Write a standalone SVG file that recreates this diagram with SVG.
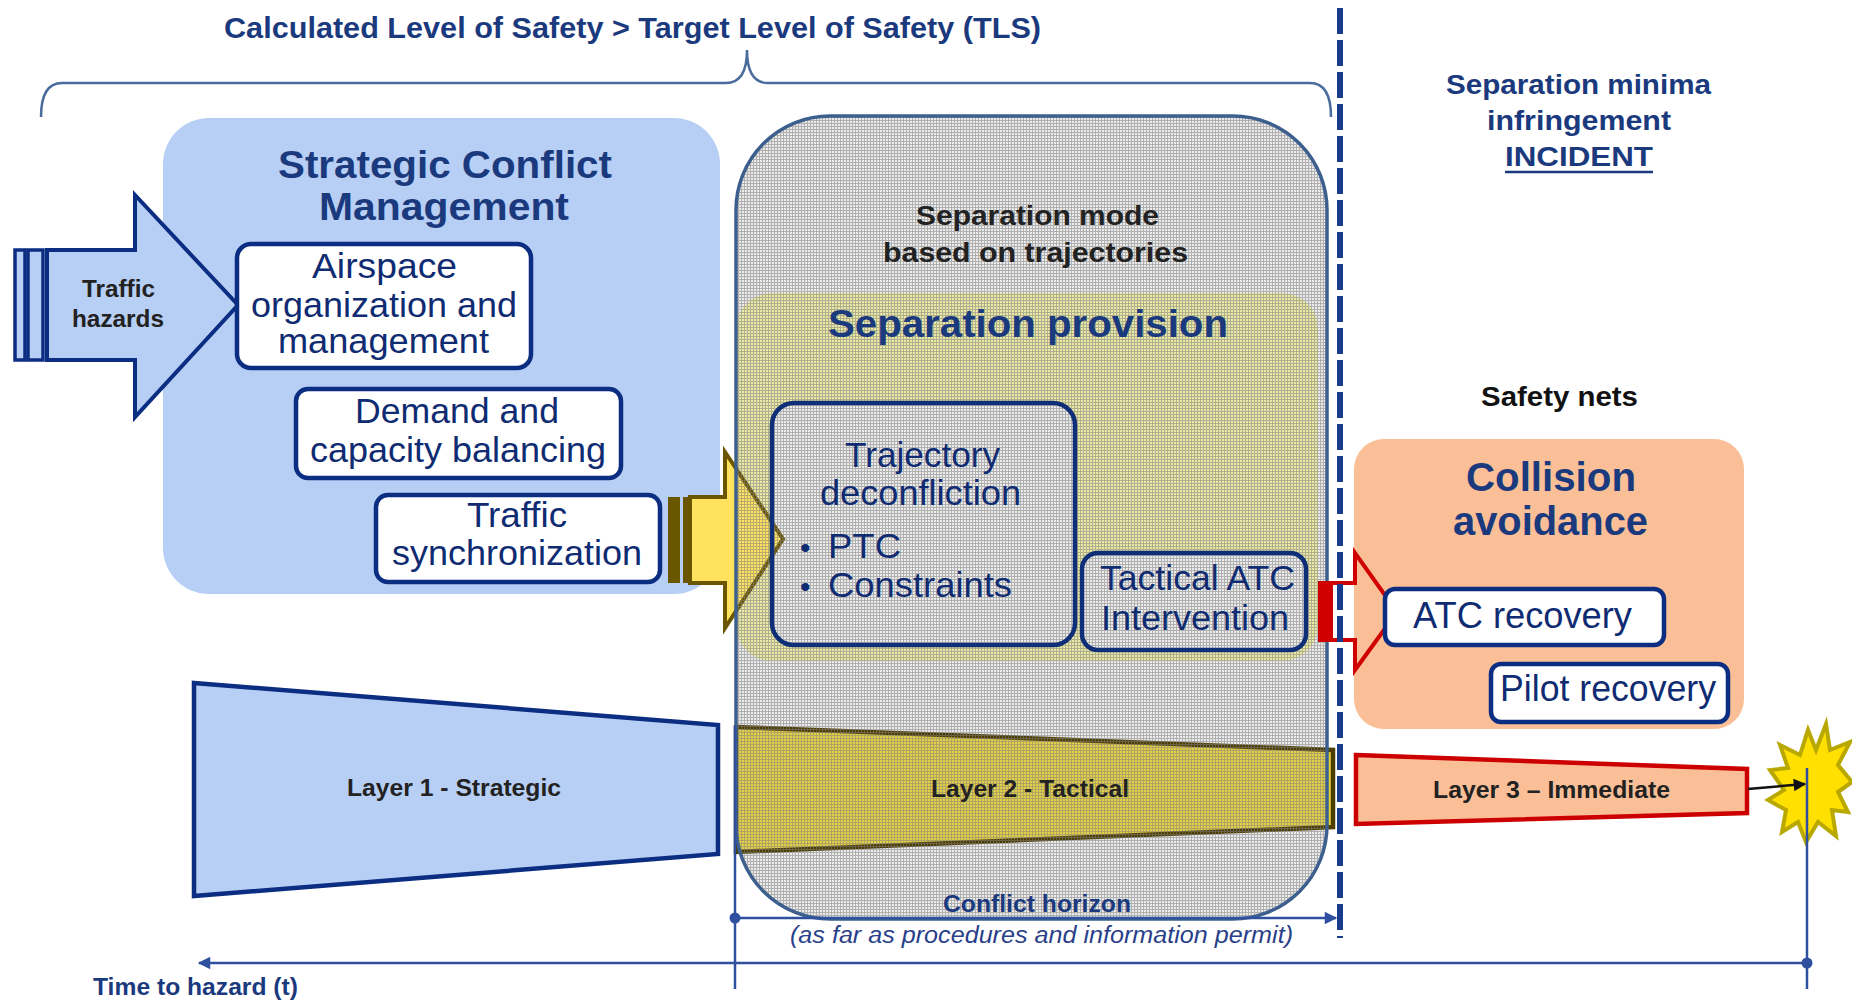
<svg xmlns="http://www.w3.org/2000/svg" width="1852" height="1002" viewBox="0 0 1852 1002">
<defs>
<style>
text{font-family:"Liberation Sans",Arial,sans-serif}
.b{font-weight:bold}
.navy{fill:#1b3a7e}
.bx{fill:#0f2b72}
.dk{fill:#222222}
.wbox{fill:#ffffff;stroke:#0b2d82;stroke-width:4.5}
.obox{fill:none;stroke:#0e2f78;stroke-width:4.5}
.ln{stroke:#2f4f9f;stroke-width:2.5;fill:none}
</style>
<pattern id="grid" width="3" height="3" patternUnits="userSpaceOnUse">
<rect width="3" height="1" fill="#808080" fill-opacity="0.55"/>
<rect y="1" width="1" height="2" fill="#808080" fill-opacity="0.55"/>
</pattern>
<marker id="ahBlue" viewBox="0 0 10 10" refX="9" refY="5" markerWidth="5.5" markerHeight="5" orient="auto" markerUnits="strokeWidth">
<path d="M0,0 L10,5 L0,10 z" fill="#2f4f9f"/>
</marker>
<marker id="ahBlack" viewBox="0 0 10 10" refX="9" refY="5" markerWidth="6" markerHeight="5" orient="auto" markerUnits="strokeWidth">
<path d="M0,0 L10,5 L0,10 z" fill="#111111"/>
</marker>
</defs>
<rect width="1852" height="1002" fill="#ffffff"/>

<g id="tls-header">
<path d="M41,117 Q41,83 62,83 L726,83 Q747,83 747,50 Q747,83 768,83 L1310,83 Q1331,83 1331,117" fill="none" stroke="#4a6c9c" stroke-width="2.5"/>
<text class="b navy" x="224" y="38" font-size="29" textLength="817" lengthAdjust="spacingAndGlyphs">Calculated Level of Safety &gt; Target Level of Safety (TLS)</text>
</g>

<g id="incident-label">
<text class="b navy" x="1446" y="94" font-size="28" textLength="265" lengthAdjust="spacingAndGlyphs">Separation minima</text>
<text class="b navy" x="1487" y="130" font-size="28" textLength="184" lengthAdjust="spacingAndGlyphs">infringement</text>
<text class="b navy" x="1505" y="166" font-size="28" textLength="148" lengthAdjust="spacingAndGlyphs">INCIDENT</text>
<line x1="1505" y1="172" x2="1653" y2="172" stroke="#1b3a7e" stroke-width="2.5"/>
</g>

<g id="strategic-conflict-management">
<rect x="163" y="118" width="557" height="476" rx="46" fill="#b8cff5"/>
<text class="b navy" x="278" y="178" font-size="38" textLength="334" lengthAdjust="spacingAndGlyphs">Strategic Conflict</text>
<text class="b navy" x="319" y="220" font-size="38" textLength="250" lengthAdjust="spacingAndGlyphs">Management</text>
</g>

<g id="traffic-hazards">
<rect x="15" y="250" width="10" height="110" fill="#b8cff5" stroke="#0b2d82" stroke-width="3.5"/>
<rect x="28" y="250" width="15" height="110" fill="#b8cff5" stroke="#0b2d82" stroke-width="3.5"/>
<polygon points="47,250 135,250 135,195 238,305 135,417 135,360 47,360" fill="#b8cff5" stroke="#0b2d82" stroke-width="4" stroke-linejoin="miter"/>
<text class="b dk" x="82" y="297" font-size="23" textLength="73" lengthAdjust="spacingAndGlyphs">Traffic</text>
<text class="b dk" x="72" y="327" font-size="23" textLength="92" lengthAdjust="spacingAndGlyphs">hazards</text>
</g>

<g id="airspace-organization">
<rect class="wbox" x="237" y="244" width="294" height="124" rx="14"/>
<text class="bx" x="312" y="278" font-size="35" textLength="145" lengthAdjust="spacingAndGlyphs">Airspace</text>
<text class="bx" x="251" y="317" font-size="35" textLength="266" lengthAdjust="spacingAndGlyphs">organization and</text>
<text class="bx" x="278" y="353" font-size="35" textLength="211" lengthAdjust="spacingAndGlyphs">management</text>
</g>

<g id="demand-capacity">
<rect class="wbox" x="296" y="389" width="325" height="89" rx="12"/>
<text class="bx" x="355" y="423" font-size="35" textLength="204" lengthAdjust="spacingAndGlyphs">Demand and</text>
<text class="bx" x="310" y="462" font-size="35" textLength="296" lengthAdjust="spacingAndGlyphs">capacity balancing</text>
</g>

<g id="traffic-synchronization">
<rect class="wbox" x="376" y="495" width="284" height="87" rx="12"/>
<text class="bx" x="467" y="527" font-size="35" textLength="100" lengthAdjust="spacingAndGlyphs">Traffic</text>
<text class="bx" x="392" y="565" font-size="35" textLength="250" lengthAdjust="spacingAndGlyphs">synchronization</text>
</g>

<g id="layer-1">
<polygon points="194,683 718,725 718,854 194,896" fill="#b8cff5" stroke="#0b2d82" stroke-width="4.5"/>
<text class="b dk" x="347" y="796" font-size="24" textLength="214" lengthAdjust="spacingAndGlyphs">Layer 1 - Strategic</text>
</g>

<g id="separation-mode">
<rect x="736" y="116" width="591" height="803" rx="94" fill="#ebebeb"/>
<rect id="separation-provision-bg" x="736" y="293" width="582" height="368" rx="36" fill="#e9e9a4"/>
<rect x="772" y="403" width="303" height="242" rx="22" fill="#ebebeb"/>
<rect x="1082" y="553" width="224" height="97" rx="16" fill="#ebebeb"/>
</g>

<g id="sync-arrow">
<rect x="668" y="497" width="12" height="86" fill="#6b5600"/>
<rect x="683" y="497" width="7" height="86" fill="#6b5600"/>
<polygon points="690,497 725,497 725,452 783,539 725,628 725,583 690,583" fill="#ffe35e" stroke="#6b5600" stroke-width="4"/>
</g>

<g id="layer-2">
<polygon points="736,727 1333,750 1333,827 736,852" fill="#e4d045" stroke="#4d3d00" stroke-width="4.5"/>
</g>

<g id="separation-mode-overlay">
<rect x="736" y="116" width="591" height="803" rx="94" fill="url(#grid)" stroke="#3c5f8e" stroke-width="3.5"/>
<text class="b dk" x="916" y="225" font-size="28" textLength="243" lengthAdjust="spacingAndGlyphs">Separation mode</text>
<text class="b dk" x="883" y="262" font-size="28" textLength="305" lengthAdjust="spacingAndGlyphs">based on trajectories</text>
<text class="b navy" x="828" y="337" font-size="38" textLength="400" lengthAdjust="spacingAndGlyphs">Separation provision</text>
<text class="b dk" x="931" y="797" font-size="24" textLength="198" lengthAdjust="spacingAndGlyphs">Layer 2 - Tactical</text>
</g>

<g id="trajectory-deconfliction">
<rect class="obox" x="772" y="403" width="303" height="242" rx="22"/>
<text class="bx" x="845" y="467" font-size="35" textLength="155" lengthAdjust="spacingAndGlyphs">Trajectory</text>
<text class="bx" x="820" y="505" font-size="35" textLength="201" lengthAdjust="spacingAndGlyphs">deconfliction</text>
<text class="bx" x="800" y="558" font-size="30">•</text>
<text class="bx" x="828" y="558" font-size="35" textLength="73" lengthAdjust="spacingAndGlyphs">PTC</text>
<text class="bx" x="800" y="597" font-size="30">•</text>
<text class="bx" x="828" y="597" font-size="35" textLength="184" lengthAdjust="spacingAndGlyphs">Constraints</text>
</g>

<g id="tactical-atc">
<rect class="obox" x="1082" y="553" width="224" height="97" rx="16"/>
<text class="bx" x="1100" y="590" font-size="35" textLength="195" lengthAdjust="spacingAndGlyphs">Tactical ATC</text>
<text class="bx" x="1101" y="630" font-size="35" textLength="188" lengthAdjust="spacingAndGlyphs">Intervention</text>
</g>

<g id="safety-nets">
<text class="b" x="1481" y="406" font-size="28" fill="#111111" textLength="157" lengthAdjust="spacingAndGlyphs">Safety nets</text>
</g>

<g id="collision-avoidance">
<rect x="1354" y="439" width="390" height="290" rx="30" fill="#fbbf98"/>
<text class="b navy" x="1466" y="491" font-size="40" textLength="170" lengthAdjust="spacingAndGlyphs">Collision</text>
<text class="b navy" x="1453" y="535" font-size="40" textLength="195" lengthAdjust="spacingAndGlyphs">avoidance</text>
</g>

<g id="recovery-arrow">
<rect x="1320" y="583" width="13" height="57" fill="#d00000"/>
<polygon points="1320,583 1355,583 1355,553 1397,612 1355,670 1355,640 1320,640" fill="none" stroke="#d00000" stroke-width="4"/>
</g>

<g id="atc-recovery">
<rect class="wbox" x="1385" y="589" width="279" height="56" rx="10"/>
<text class="bx" x="1413" y="628" font-size="36" textLength="219" lengthAdjust="spacingAndGlyphs">ATC recovery</text>
</g>

<g id="pilot-recovery">
<rect class="wbox" x="1491" y="664" width="237" height="58" rx="10"/>
<text class="bx" x="1500" y="701" font-size="36" textLength="216" lengthAdjust="spacingAndGlyphs">Pilot recovery</text>
</g>

<g id="layer-3">
<polygon points="1356,755 1747,769 1747,813 1356,824" fill="#fbbf98" stroke="#cc0000" stroke-width="4.5"/>
<text class="b dk" x="1433" y="798" font-size="24" textLength="237" lengthAdjust="spacingAndGlyphs">Layer 3 – Immediate</text>
</g>

<g id="hazard-burst">
<polygon points="1826,724 1830,750 1850,742 1838,765 1852,782 1838,792 1848,812 1832,810 1836,836 1818,822 1806,842 1798,822 1782,832 1786,810 1768,800 1784,790 1770,770 1788,768 1780,745 1800,755 1808,730 1816,750" fill="#ffe000" stroke="#b8a800" stroke-width="4" stroke-linejoin="miter"/>
</g>

<g id="separation-boundary">
<line x1="1340" y1="8" x2="1340" y2="938" stroke="#1a3a8c" stroke-width="6" stroke-dasharray="26 6"/>
</g>

<g id="connectors">
<line class="ln" x1="735" y1="726" x2="735" y2="989" stroke-width="2"/>
<line class="ln" x1="1807" y1="768" x2="1807" y2="989" stroke-width="2"/>
<line class="ln" x1="735" y1="918" x2="1336" y2="918" marker-end="url(#ahBlue)"/>
<circle cx="735" cy="918" r="5.5" fill="#2f4f9f"/>
<line class="ln" x1="1807" y1="963" x2="199" y2="963" marker-end="url(#ahBlue)"/>
<circle cx="1807" cy="963" r="5.5" fill="#2f4f9f"/>
<line x1="1748" y1="789" x2="1805" y2="784" stroke="#111111" stroke-width="2.5" marker-end="url(#ahBlack)"/>
</g>

<g id="axis-labels">
<text class="b navy" x="943" y="912" font-size="24" textLength="188" lengthAdjust="spacingAndGlyphs">Conflict horizon</text>
<text x="790" y="943" font-size="23" font-style="italic" fill="#2a3f8a" textLength="503" lengthAdjust="spacingAndGlyphs">(as far as procedures  and information  permit)</text>
<text class="b navy" x="93" y="995" font-size="24" textLength="205" lengthAdjust="spacingAndGlyphs">Time to hazard (t)</text>
</g>
</svg>
